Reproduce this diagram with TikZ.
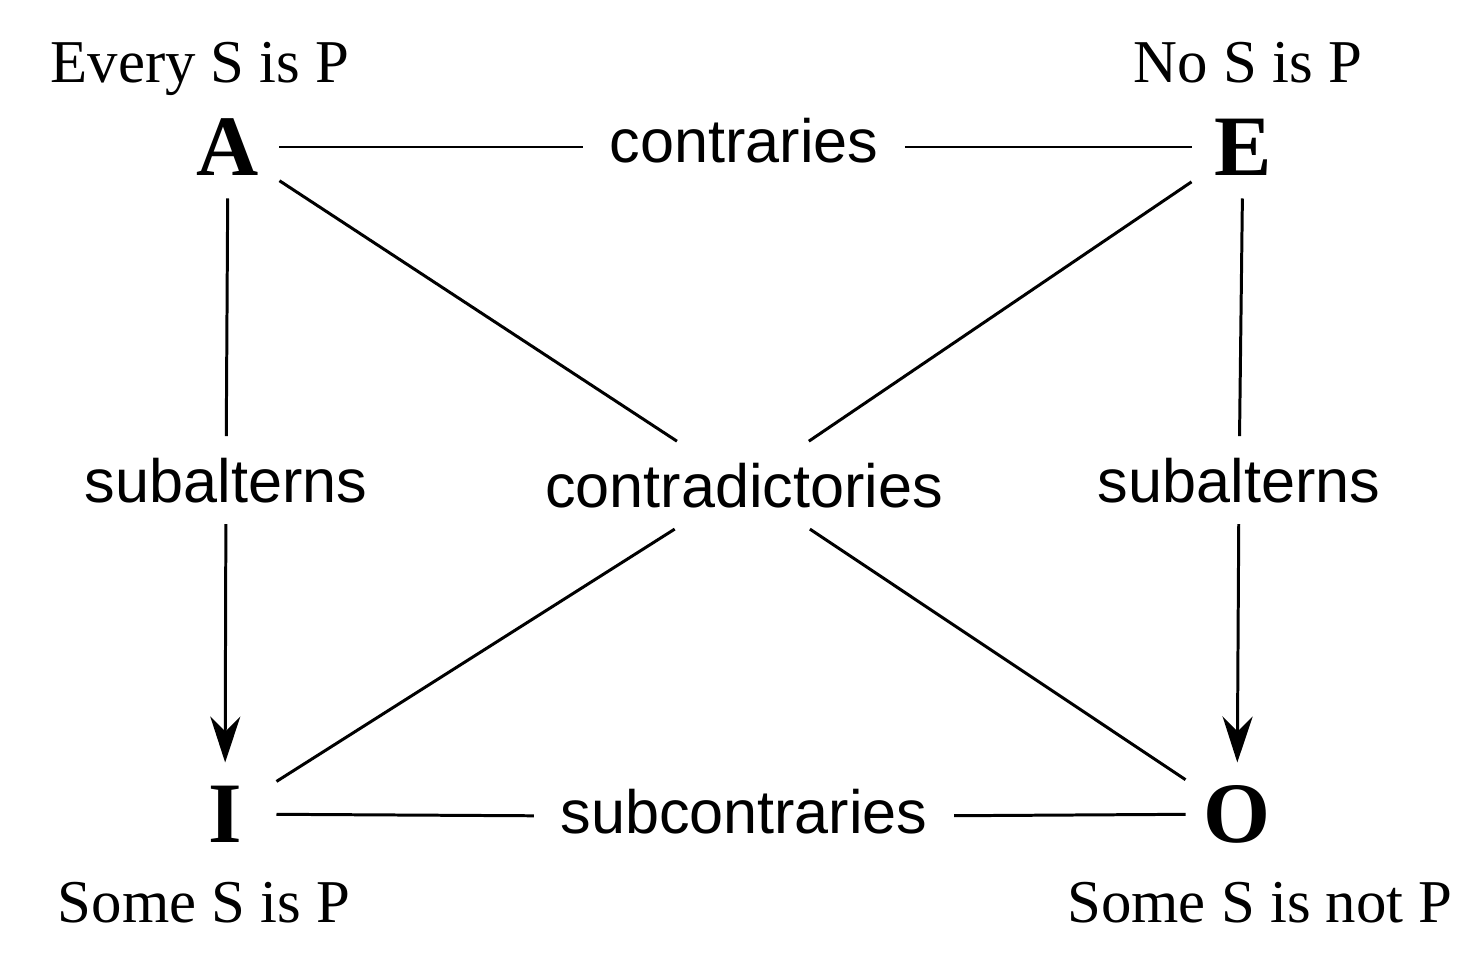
\documentclass[tikz,border=0pt]{standalone}
\usepackage{fontspec}
\setmainfont{Liberation Serif}
\setsansfont{Liberation Sans}
\usetikzlibrary{arrows.meta, positioning}
\tikzset{> = { Stealth[length = 4.6mm, width = 3mm, inset = 1.5mm] }}

\begin{document}
\begin{tikzpicture}[
	corner/.style = {font = \fontsize{24.5}{28}\selectfont\bfseries, minimum size = 1cm, inner sep = 0},
	prop/.style = {font = \fontsize{17.3}{20}\selectfont, anchor = base, inner sep = 0},
	rel/.style = {font = \sffamily\fontsize{17.4}{20}\selectfont, anchor = base, inner xsep = 0.25cm, inner ysep = 0.2cm},
	hrel/.style = {rel, text height = 0.32cm, text depth = 0cm},
	line width = 0.85pt]
	\useasboundingbox (0, 0) rectangle (14.84, 9.72);
	\node [corner] (A) at (2.28, 8.25) {A};
	\node [corner] (E) at (12.43, 8.25) {E};
	\node [corner] (I) at (2.25, 1.58) {I};
	\node [corner] (O) at (12.37, 1.58) {O};

	\node [prop] (sA) at (2.00, 8.89) {Every S is P};
	\node [prop] (sE) at (12.48, 8.89) {No S is P};
	\node [prop] (sI) at (2.04, 0.50) {Some S is P};
	\node [prop] (sO) at (12.60, 0.50) {Some S is not P};

	\node [hrel] (ctr) at (7.44, 8.09) {contraries};
	\node [hrel] (subctr) at (7.44, 1.39) {subcontraries};
	\node [rel] (subL) at (2.26, 4.70) {subalterns};
	\node [rel] (subR) at (12.39, 4.70) {subalterns};
	\node [rel] (cd) at (7.44, 4.65) {contradictories};

	\draw (A) -- (ctr);
	\draw (ctr) -- (E);
	\draw (I) -- (subctr);
	\draw (subctr) -- (O);
	\draw (A) -- (subL);
	\draw [->] (subL) -- (I);
	\draw (E) -- (subR);
	\draw [->] (subR) -- (O);
	\draw (A) -- (cd);
	\draw (cd) -- (O);
	\draw (E) -- (cd);
	\draw (cd) -- (I);
\end{tikzpicture}
\end{document}
